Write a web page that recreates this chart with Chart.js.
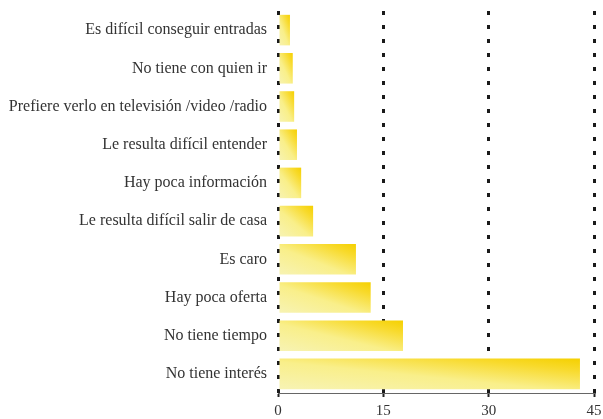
<!DOCTYPE html>
<html>
<head>
<meta charset="utf-8">
<script src="https://cdn.jsdelivr.net/npm/chart.js@4/dist/chart.umd.min.js"></script>
<style>
  html, body { margin: 0; padding: 0; background: #fff; }
  #wrap { width: 603px; height: 419px; }
</style>
</head>
<body>
<div id="wrap"><canvas id="motivosChart"></canvas></div>
<script>
// motivos de no asistencia
const motivos = [
  "Es difícil conseguir entradas",
  "No tiene con quien ir",
  "Prefiere verlo en televisión /video /radio",
  "Le resulta difícil entender",
  "Hay poca información",
  "Le resulta difícil salir de casa",
  "Es caro",
  "Hay poca oferta",
  "No tiene tiempo",
  "No tiene interés"
];
const porcentajes = [1.7, 2.1, 2.3, 2.7, 3.3, 5.0, 11.1, 13.2, 17.8, 43.0];
const ticksX = [0, 15, 30, 45];

const BAR_PCT = 0.8;

// degradado diagonal por barra (dorado arriba a la derecha, pálido abajo a la izquierda)
function barGradient(ctx) {
  const chart = ctx.chart;
  const area = chart.chartArea;
  if (!area || ctx.dataIndex === undefined) return "#f8e670";
  const xs = chart.scales.x, ys = chart.scales.y;
  const x0 = xs.getPixelForValue(0);
  const x1 = xs.getPixelForValue(porcentajes[ctx.dataIndex]);
  const cy = ys.getPixelForValue(ctx.dataIndex);
  const h = (area.height / motivos.length) * BAR_PCT;
  const y1 = cy + h / 2;
  const w = x1 - x0;
  const k = (2 * w * h) / (w * w + h * h);
  const g = chart.ctx.createLinearGradient(x0, y1, x0 + h * k, y1 - w * k);
  g.addColorStop(0, "#f7f3b4");
  g.addColorStop(0.45, "#f9ef8a");
  g.addColorStop(0.8, "#f8da2c");
  g.addColorStop(1, "#f5d000");
  return g;
}

new Chart(document.getElementById("motivosChart").getContext("2d"), {
  type: "bar",
  data: {
    labels: motivos,
    datasets: [{
      data: porcentajes,
      backgroundColor: barGradient,
      borderWidth: 0,
      barPercentage: BAR_PCT,
      categoryPercentage: 1
    }]
  },
  options: {
    indexAxis: "y",
    responsive: true,
    maintainAspectRatio: false,
    animation: false,
    layout: { padding: { top: 11, right: 9, left: 0, bottom: 0 } },
    plugins: { legend: { display: false }, tooltip: { enabled: false } },
    scales: {
      x: {
        min: 0, max: 45,
        afterBuildTicks: (s) => { s.ticks = ticksX.map((v) => ({ value: v })); },
        afterFit: (s) => { s.height = 26; s.paddingLeft = 0; s.paddingRight = 0; },
        grid: {
          color: "#1a1a1a",
          lineWidth: 3,
          tickColor: "#222",
          tickWidth: 2,
          tickLength: 4,
          tickBorderDash: []
        },
        border: { display: true, color: "#666", width: 1, dash: [4, 10] },
        ticks: {
          color: "#333",
          padding: 5,
          font: { family: "Liberation Serif", size: 15 }
        }
      },
      y: {
        afterFit: (s) => { s.width = 278; s.paddingTop = 0; s.paddingBottom = 0; },
        grid: { display: false, drawTicks: false },
        border: { display: false },
        ticks: {
          color: "#333",
          padding: 11,
          font: { family: "Liberation Serif", size: 16 }
        }
      }
    }
  }
});
</script>
</body>
</html>
